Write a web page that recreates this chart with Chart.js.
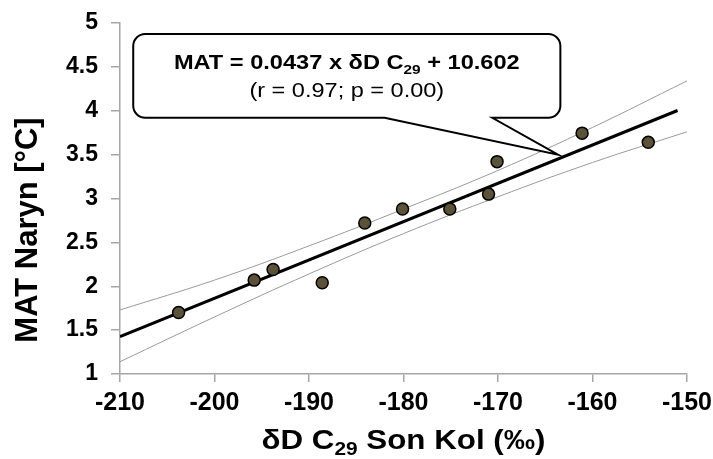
<!DOCTYPE html>
<html lang="en">
<head>
<meta charset="UTF-8" />
<title>MAT Naryn vs δD C29 Son Kol</title>
<script src="https://cdn.jsdelivr.net/npm/chart.js"></script>
<style>
  body { margin: 0; background: #fff; }
  #wrap { width: 713px; height: 459px; }
</style>
</head>
<body>
<div id="wrap"><canvas id="chart"></canvas></div>
<script>
// samples: dD C29 Son Kol (permil) vs MAT Naryn (°C)
const dD  = [-203.8, -195.8, -193.8, -188.6, -184.1, -180.1, -175.1, -171.0, -170.1, -161.1, -154.1];
const mat = [1.70, 2.07, 2.19, 2.04, 2.72, 2.88, 2.88, 3.05, 3.42, 3.745, 3.64];

// regression line end points
const fitX = [-210, -151];
const fitY = [1.425, 4.003];

// confidence band
const bandX     = [-210, -200, -190, -180, -170, -160, -150];
const bandUpper = [1.73, 2.07, 2.46, 2.88, 3.32, 3.81, 4.34];
const bandLower = [1.14, 1.65, 2.14, 2.60, 3.02, 3.41, 3.76];

const FONT = '"Liberation Sans", Arial, sans-serif';

const toPts = (xs, ys) => xs.map((v, i) => ({ x: v, y: ys[i] }));

// callout box, in data units
const callout = { left: -208.6, right: -163.4, top: 4.875, bottom: 3.92,
                  baseL: -182.0, baseR: -170.6, tipX: -163.65, tipY: 3.50 };

// draw text runs centred on cx, stretched horizontally by sx
function drawRuns(ctx, runs, cx, baseline, sx) {
  sx = sx || 1;
  let total = 0;
  runs.forEach(r => { ctx.font = r.font; r.w = ctx.measureText(r.text).width; total += r.w; });
  ctx.save();
  ctx.translate(cx, baseline);
  ctx.scale(sx, 1);
  let xp = -total / 2;
  runs.forEach(r => {
    ctx.font = r.font;
    ctx.fillText(r.text, xp, r.dy || 0);
    xp += r.w;
  });
  ctx.restore();
}

const extras = {
  id: 'extras',
  afterDatasetsDraw(chart) {
    const { ctx, scales: { x, y }, chartArea } = chart;
    const L = x.getPixelForValue(callout.left), R = x.getPixelForValue(callout.right);
    const T = y.getPixelForValue(callout.top), B = y.getPixelForValue(callout.bottom);
    const bL = x.getPixelForValue(callout.baseL), bR = x.getPixelForValue(callout.baseR);
    const tx = x.getPixelForValue(callout.tipX), ty = y.getPixelForValue(callout.tipY);
    const r = 12;
    ctx.save();
    ctx.beginPath();
    ctx.moveTo(L + r, T);
    ctx.lineTo(R - r, T);
    ctx.arcTo(R, T, R, T + r, r);
    ctx.lineTo(R, B - r);
    ctx.arcTo(R, B, R - r, B, r);
    ctx.lineTo(bR, B);
    ctx.lineTo(tx, ty);
    ctx.lineTo(bL, B);
    ctx.lineTo(L + r, B);
    ctx.arcTo(L, B, L, B - r, r);
    ctx.lineTo(L, T + r);
    ctx.arcTo(L, T, L + r, T, r);
    ctx.closePath();
    ctx.fillStyle = '#fff';
    ctx.fill();
    ctx.lineWidth = 2;
    ctx.strokeStyle = '#000';
    ctx.stroke();

    ctx.fillStyle = '#000';
    ctx.textBaseline = 'alphabetic';
    ctx.textAlign = 'left';
    const cx = (L + R) / 2;
    drawRuns(ctx, [
      { text: 'MAT = 0.0437 x δD C', font: 'bold 20px ' + FONT },
      { text: '29', font: 'bold 13px ' + FONT, dy: 5 },
      { text: ' + 10.602', font: 'bold 20px ' + FONT }
    ], cx, T + 35, 1.18);
    drawRuns(ctx, [
      { text: '(r = 0.97; p = 0.00)', font: '21px ' + FONT }
    ], cx, T + 63, 1.12);

    // x axis title
    drawRuns(ctx, [
      { text: 'δD C', font: 'bold 27px ' + FONT },
      { text: '29', font: 'bold 18px ' + FONT, dy: 6 },
      { text: ' Son Kol (‰)', font: 'bold 27px ' + FONT }
    ], (chartArea.left + chartArea.right) / 2, 449, 1.16);

    // y axis title
    ctx.translate(37, 230);
    ctx.rotate(-Math.PI / 2);
    drawRuns(ctx, [{ text: 'MAT Naryn [°C]', font: 'bold 31px ' + FONT }], 0, 0);
    ctx.restore();
  }
};

new Chart(document.getElementById('chart'), {
  type: 'scatter',
  data: {
    datasets: [
      {
        data: toPts(dD, mat),
        pointRadius: 6,
        pointBackgroundColor: '#5b5238',
        pointBorderColor: '#000',
        pointBorderWidth: 1.5
      },
      {
        data: toPts(fitX, fitY),
        showLine: true,
        borderColor: '#000',
        borderWidth: 3,
        pointRadius: 0
      },
      {
        data: toPts(bandX, bandUpper),
        showLine: true,
        borderColor: '#9a9a9a',
        borderWidth: 1,
        tension: 0.4,
        pointRadius: 0
      },
      {
        data: toPts(bandX, bandLower),
        showLine: true,
        borderColor: '#9a9a9a',
        borderWidth: 1,
        tension: 0.4,
        pointRadius: 0
      }
    ]
  },
  options: {
    responsive: true,
    maintainAspectRatio: false,
    animation: false,
    layout: { padding: { top: 23, right: 26, left: 0, bottom: 0 } },
    plugins: { legend: { display: false }, tooltip: { enabled: false } },
    scales: {
      x: {
        min: -210, max: -150,
        afterFit: s => { s.height = 85; s.paddingLeft = 0; s.paddingRight = 0; },
        ticks: { stepSize: 10, color: '#000', padding: 6, font: { family: FONT, size: 25, weight: 'bold' } },
        grid: { drawOnChartArea: false, drawTicks: true, tickLength: 8, color: '#a6a6a6', lineWidth: 1.5 },
        border: { display: true, color: '#a6a6a6', width: 1.5 }
      },
      y: {
        min: 1, max: 5,
        afterFit: s => { s.width = 120; s.paddingTop = 0; s.paddingBottom = 0; },
        ticks: { stepSize: 0.5, color: '#000', padding: 13, callback: v => String(v),
                 font: { family: FONT, size: 23, weight: 'bold' } },
        grid: { drawOnChartArea: false, drawTicks: true, tickLength: 9, color: '#a6a6a6', lineWidth: 1.5 },
        border: { display: true, color: '#a6a6a6', width: 1.5 }
      }
    }
  },
  plugins: [extras]
});
</script>
</body>
</html>
